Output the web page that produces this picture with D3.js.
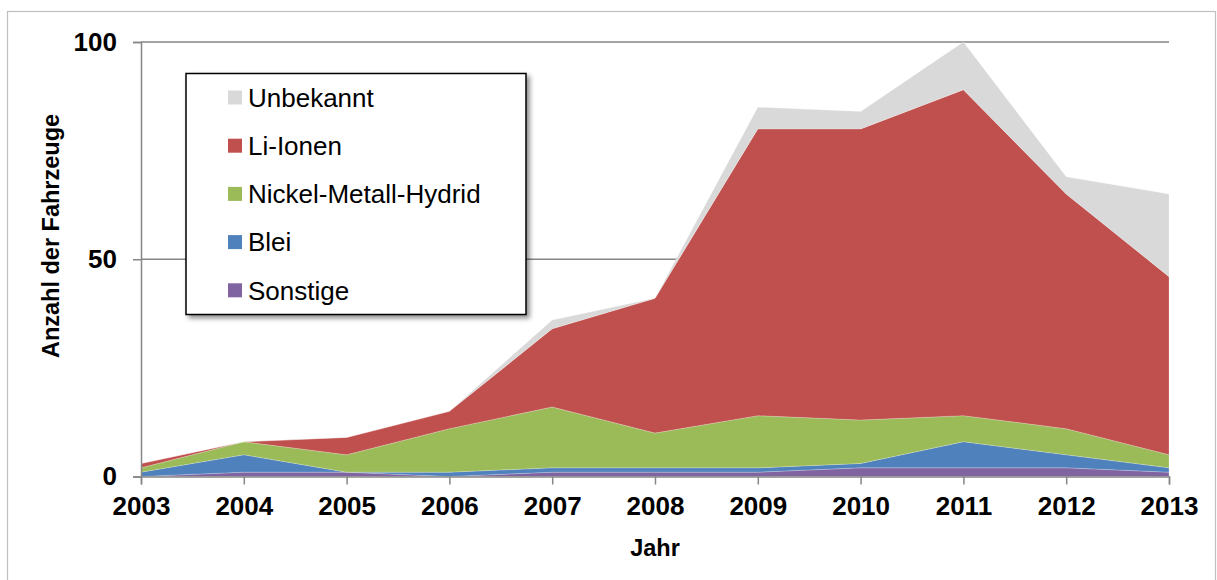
<!DOCTYPE html>
<html>
<head>
<meta charset="utf-8">
<script src="https://cdn.jsdelivr.net/npm/d3@7"></script>
<style>
  html, body { margin: 0; padding: 0; background: #fff; }
  svg { display: block; font-family: "Liberation Sans", Arial, sans-serif; }
</style>
</head>
<body>
<svg id="chart" width="1217" height="580"></svg>
<script>
// ---- Data ----
const years = [2003, 2004, 2005, 2006, 2007, 2008, 2009, 2010, 2011, 2012, 2013];
const sonstige   = [0, 1, 1, 0, 1, 1, 1, 2, 2, 2, 1];
const blei       = [1, 4, 0, 1, 1, 1, 1, 1, 6, 3, 1];
const nimh       = [1, 3, 4, 10, 14, 8, 12, 10, 6, 6, 3];
const liIonen    = [1, 0, 4, 4, 18, 31, 66, 67, 75, 54, 41];
const unbekannt  = [0, 0, 0, 0, 2, 0, 5, 4, 11, 4, 19];
const yTicks = [0, 50, 100];
const seriesNames = ["Sonstige", "Blei", "Nickel-Metall-Hydrid", "Li-Ionen", "Unbekannt"];
const seriesValues = [sonstige, blei, nimh, liIonen, unbekannt];
const seriesColors = ["#8064a2", "#4f81bd", "#9bbb59", "#c0504d", "#d9d9d9"];

// ---- Build table ----
const table = years.map((y, i) => {
  const row = { year: y };
  seriesNames.forEach((n, k) => row[n] = seriesValues[k][i]);
  return row;
});

const svg = d3.select("#chart");

// outer border
svg.append("rect").attr("x", 7.5).attr("y", 11.5).attr("width", 1208).attr("height", 600)
  .attr("fill", "#fff").attr("stroke", "#bfbfbf").attr("stroke-width", 1.2);

const x = d3.scaleLinear().domain([2003, 2013]).range([141, 1169]);
const y = d3.scaleLinear().domain([0, 100]).range([476.5, 42]);

// gridlines
svg.append("g").selectAll("line").data(yTicks.filter(t => t > 0)).join("line")
  .attr("x1", x(2003)).attr("x2", x(2013))
  .attr("y1", d => y(d)).attr("y2", d => y(d))
  .attr("stroke", "#868686").attr("stroke-width", 1.5);

// stacked areas
const stack = d3.stack().keys(seriesNames);
const layers = stack(table);
const area = d3.area()
  .x(d => x(d.data.year))
  .y0(d => y(d[0]))
  .y1(d => y(d[1]));

svg.append("g").selectAll("path").data(layers).join("path")
  .attr("d", area)
  .attr("fill", (d, i) => seriesColors[i])
  .attr("stroke", "rgba(255,255,255,0.35)")
  .attr("stroke-width", 0.6);

// axes
const axisColor = "#868686";
const yAxis = d3.axisLeft(y).tickValues(yTicks).tickSize(8).tickPadding(16).tickFormat(d3.format("d"));
const gy = svg.append("g").attr("transform", `translate(${x(2003)},0)`).call(yAxis);
gy.select(".domain").attr("stroke", axisColor).attr("stroke-width", 1.5);
gy.selectAll(".tick line").attr("stroke", axisColor).attr("stroke-width", 1.5);
gy.selectAll(".tick text").attr("font-size", 26).attr("font-weight", "bold")
  .attr("fill", "#000").attr("font-family", '"Liberation Sans", Arial, sans-serif');

const xAxis = d3.axisBottom(x).tickValues(years).tickSize(8).tickPadding(12).tickFormat(d3.format("d"));
const gx = svg.append("g").attr("transform", `translate(0,${y(0)})`).call(xAxis);
gx.select(".domain").attr("stroke", axisColor).attr("stroke-width", 1.5);
gx.selectAll(".tick line").attr("stroke", axisColor).attr("stroke-width", 1.5);
gx.selectAll(".tick text").attr("font-size", 26).attr("font-weight", "bold")
  .attr("fill", "#000").attr("font-family", '"Liberation Sans", Arial, sans-serif');

// axis titles
svg.append("text").attr("x", 655).attr("y", 556).attr("text-anchor", "middle")
  .attr("font-size", 23.5).attr("font-weight", "bold").text("Jahr");
svg.append("text").attr("transform", "translate(59,236) rotate(-90)").attr("text-anchor", "middle")
  .attr("font-size", 23.5).attr("font-weight", "bold").text("Anzahl der Fahrzeuge");

// legend
const defs = svg.append("defs");
const f = defs.append("filter").attr("id", "shadow").attr("x", "-10%").attr("y", "-10%").attr("width", "130%").attr("height", "130%");
f.append("feDropShadow").attr("dx", 3).attr("dy", 3).attr("stdDeviation", 2.5)
  .attr("flood-color", "#000").attr("flood-opacity", 0.45);

const lg = svg.append("g");
lg.append("rect").attr("x", 186).attr("y", 73.5).attr("width", 340).attr("height", 241)
  .attr("fill", "#fff").attr("stroke", "#000").attr("stroke-width", 1.5).attr("filter", "url(#shadow)");

const legendOrder = seriesNames.slice().reverse();
const legendColors = seriesColors.slice().reverse();
const items = lg.selectAll("g.item").data(legendOrder).join("g").attr("class", "item")
  .attr("transform", (d, i) => `translate(0,${97.5 + i * 48.2})`);
items.append("rect").attr("x", 228).attr("y", -7).attr("width", 14).attr("height", 14)
  .attr("fill", (d, i) => legendColors[i]);
items.append("text").attr("x", 248).attr("y", 9.3).attr("font-size", 26).attr("fill", "#000").text(d => d);
</script>
</body>
</html>
